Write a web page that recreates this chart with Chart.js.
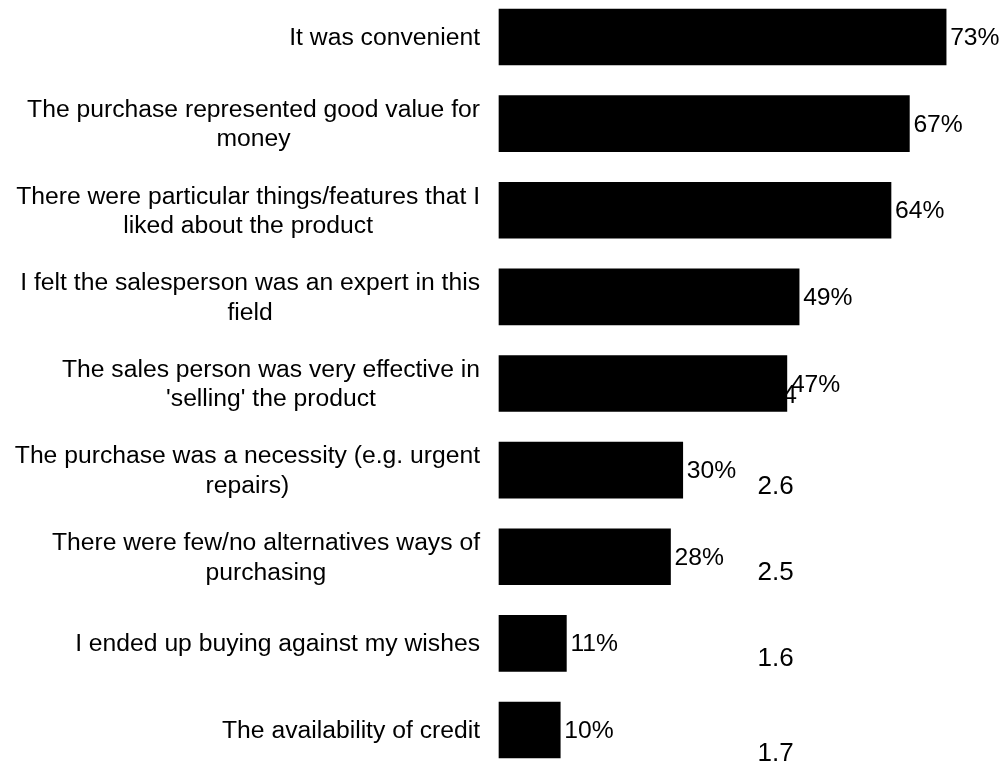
<!DOCTYPE html>
<html>
<head>
<meta charset="utf-8">
<script src="https://cdn.jsdelivr.net/npm/chart.js@4/dist/chart.umd.min.js"></script>
<style>
  html, body { margin: 0; padding: 0; background: #fff; }
  #wrap { width: 1008px; height: 764px; }
</style>
</head>
<body>
<div id="wrap"><canvas id="myChart" width="1008" height="764"></canvas></div>
<script>
// Reasons given for the purchase (multi-line labels are arrays)
const reasons = [
    'It was convenient',
    ['The purchase represented good value for', 'money'],
    ['There were particular things/features that I', 'liked about the product'],
    ['I felt the salesperson was an expert in this', 'field'],
    ['The sales person was very effective in', "'selling' the product"],
    ['The purchase was a necessity (e.g. urgent', 'repairs)'],
    ['There were few/no alternatives ways of', 'purchasing'],
    'I ended up buying against my wishes',
    'The availability of credit'
];
// Share of respondents, %
const shares = [73, 67, 64, 49, 47, 30, 28, 11, 10];
// Mean score labels left over beside some rows
const scores = [null, null, null, null, 4, 2.6, 2.5, 1.6, 1.7];

const FONT = '"Liberation Sans", Arial, sans-serif';

// Draws the category text, the % labels and the score labels
const textPlugin = {
    id: 'barText',
    afterDatasetsDraw(chart, args, opts) {
        const ctx = chart.ctx;
        const xs = chart.scales.x;
        const ys = chart.scales.y;
        const meta = chart.getDatasetMeta(0);
        ctx.save();
        ctx.fillStyle = '#000';

        // category labels, block right aligned, lines centered inside it
        ctx.font = '24.7px ' + FONT;
        ctx.textAlign = 'center';
        ctx.textBaseline = 'alphabetic';
        reasons.forEach((lab, i) => {
            const lines = Array.isArray(lab) ? lab : [lab];
            const widest = Math.max(...lines.map(l => ctx.measureText(l).width));
            const cx = opts.labelRight - widest / 2;
            const cy = ys.getPixelForValue(i);
            lines.forEach((line, k) => {
                const y = cy + 8 + (k - (lines.length - 1) / 2) * opts.lineHeight;
                ctx.fillText(line, cx, y);
            });
        });

        // % value after each bar
        ctx.textAlign = 'left';
        meta.data.forEach((bar, i) => {
            ctx.fillText(shares[i] + '%', bar.x + opts.valueGap, bar.y + 8);
        });

        // stray score labels
        ctx.font = '26px ' + FONT;
        scores.forEach((s, i) => {
            if (s === null) return;
            const nudge = opts.scoreNudge[i] || { dx: 0, dy: 0 };
            const x = xs.getPixelForValue(opts.scoreAt) + nudge.dx;
            const y = ys.getPixelForValue(i) + nudge.dy + 9;
            ctx.fillText(String(s), x, y);
        });
        ctx.restore();
    }
};

const ctx = document.getElementById('myChart');

new Chart(ctx, {
    type: 'bar',
    data: {
        labels: reasons,
        datasets: [{
            data: shares,
            backgroundColor: '#000',
            borderWidth: 0,
            barThickness: 56,
            clip: false
        }]
    },
    options: {
        indexAxis: 'y',
        responsive: false,
        animation: false,
        events: [],
        layout: {
            padding: { left: 499, right: 19, top: 37, bottom: 34 }
        },
        scales: {
            x: {
                display: false,
                min: 0,
                max: 80
            },
            y: {
                display: false,
                offset: false
            }
        },
        plugins: {
            legend: { display: false },
            tooltip: { enabled: false },
            barText: {
                labelRight: 480,
                lineHeight: 29.5,
                valueGap: 4,
                scoreAt: 42.2,
                scoreNudge: {
                    4: { dx: 25, dy: 10 },
                    5: { dx: 0, dy: 15 },
                    6: { dx: 0, dy: 14 },
                    7: { dx: 0, dy: 14 },
                    8: { dx: 0, dy: 22 }
                }
            }
        }
    },
    plugins: [textPlugin]
});
</script>
</body>
</html>
